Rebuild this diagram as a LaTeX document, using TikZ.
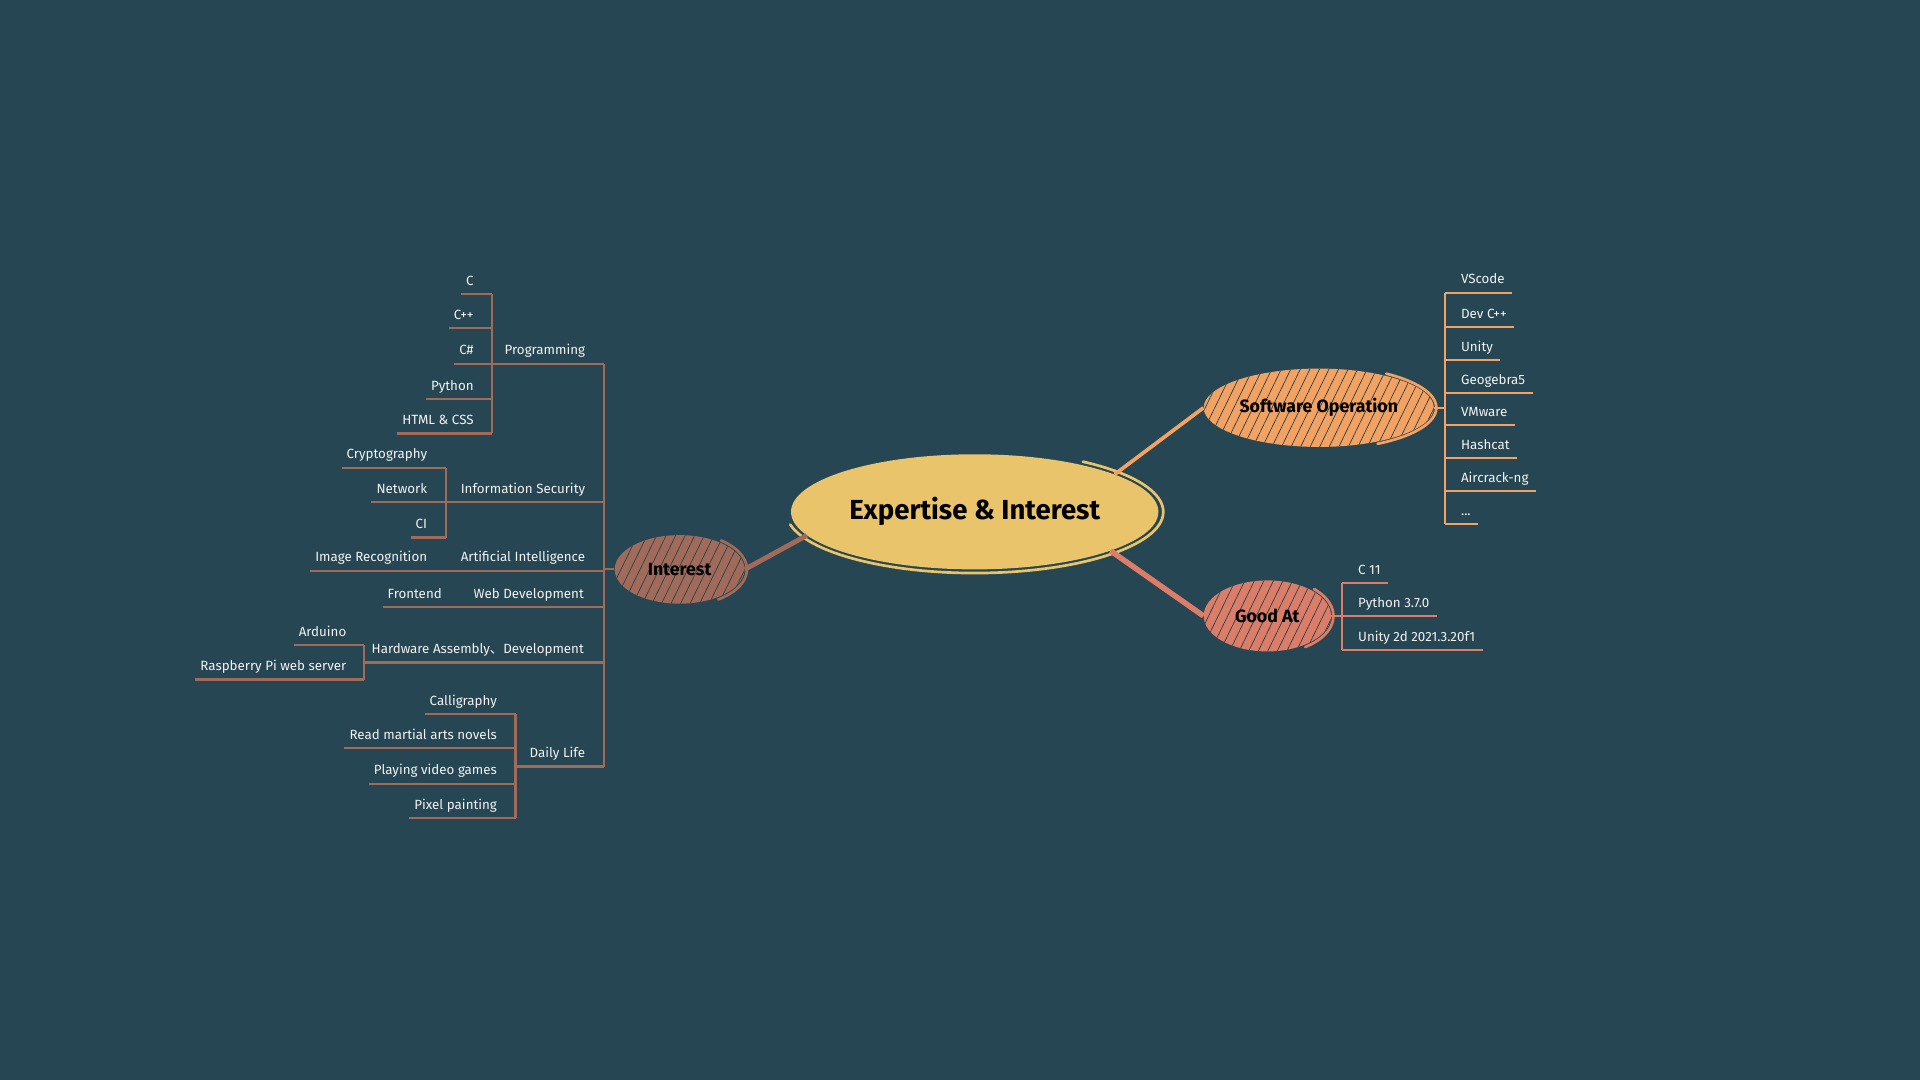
\documentclass[tikz,border=0pt]{standalone}
\usepackage{fontspec}
\setmainfont{Fira Sans}
\newfontfamily\cjk{Noto Sans CJK SC}
\usepackage{xcolor}
\usetikzlibrary{shapes.geometric,patterns.meta}
\definecolor{bg}{HTML}{264653}
\definecolor{coreyellow}{HTML}{E9C46A}
\definecolor{softorange}{HTML}{F4A261}
\definecolor{goodred}{HTML}{DC7D68}
\definecolor{intbrown}{HTML}{A26B59}
\definecolor{leaftext}{HTML}{F2F2F2}

\begin{document}
\begin{tikzpicture}[x=1pt,y=-1pt]
  \tikzstyle{topic}=[ellipse,inner sep=0,text=black,font=\bfseries\fontsize{14.5}{17}\selectfont]
  \tikzstyle{hatched}=[postaction={pattern={Lines[angle=64,distance=7pt,line width=.6pt]},pattern color=bg,fill opacity=.3}]
  \tikzstyle{sketch}=[line width=2.2pt,line cap=round]
  \tikzstyle{leaf}=[inner xsep=0,inner ysep=4pt,text height=7.5pt,text depth=3pt,text=leaftext,font=\fontsize{10.9}{13}\selectfont]
  \tikzstyle{lleaf}=[leaf,anchor=south east]
  \tikzstyle{rleaf}=[leaf,anchor=south west]
  \tikzstyle{ibranch}=[draw=intbrown,line width=1.8pt]
  \tikzstyle{sbranch}=[draw=softorange,line width=1.8pt]
  \tikzstyle{gbranch}=[draw=goodred,line width=1.8pt]
  \path[use as bounding box,fill=bg] (0,0) rectangle (1568,882);

  % main topics
  \node[topic,fill=coreyellow,minimum width=300,minimum height=94,font=\bfseries\fontsize{22.5}{26}\selectfont] (core) at (796,418) {Expertise \& Interest};
  \draw[sketch,coreyellow] ([shift={(-55:154 and 50)}]core.center) arc[start angle=-55,end angle=168,x radius=154,y radius=50];
  \node[topic,hatched,fill=softorange,minimum width=188,minimum height=64] (soft) at (1077,333) {Software Operation};
  \draw[sketch,softorange] ([shift={(-55:96 and 34)}]soft.center) arc[start angle=-55,end angle=60,x radius=96,y radius=34];
  \node[topic,hatched,fill=goodred,minimum width=104,minimum height=58] (good) at (1035,503) {Good At};
  \draw[sketch,goodred] ([shift={(-45:54 and 31)}]good.center) arc[start angle=-45,end angle=55,x radius=54,y radius=31];
  \node[topic,hatched,fill=intbrown,minimum width=106,minimum height=56] (interest) at (555,465) {Interest};
  \draw[sketch,intbrown] ([shift={(-52:55 and 30)}]interest.center) arc[start angle=-52,end angle=55,x radius=55,y radius=30];

  \draw[softorange,line width=3pt] (core.15) -- (soft.west);
  \draw[goodred,line width=4.5pt] (core.-16) -- (good.west);
  \draw[intbrown,line width=4pt] (core.188) -- (interest.east);

  % interest
  \coordinate (itrunk) at (493,465);
  \coordinate (progbr) at (402,297);
  \coordinate (infobr) at (364,410);
  \coordinate (hwbr) at (297,541);
  \coordinate (dailybr) at (421,626);
  \node[lleaf] (prog) at (478,297) {Programming};
  \node[lleaf] (info) at (478,410) {Information Security};
  \node[lleaf] (ai) at (478,466) {Artificial Intelligence};
  \node[lleaf] (web) at (477,496) {Web Development};
  \node[lleaf] (hwdev) at (477,541) {Hardware Assembly{\cjk 、}Development};
  \node[lleaf] (daily) at (478,626) {Daily Life};
  \node[lleaf] (c) at (387,240) {C};
  \node[lleaf] (cpp) at (387,268) {C++};
  \node[lleaf] (csharp) at (387,297) {C\#};
  \node[lleaf] (python) at (387,326) {Python};
  \node[lleaf] (htmlcss) at (387,354) {HTML \& CSS};
  \node[lleaf] (crypto) at (349,382) {Cryptography};
  \node[lleaf] (network) at (349,410) {Network};
  \node[lleaf] (ci) at (349,439) {CI};
  \node[lleaf] (imgrec) at (349,466) {Image Recognition};
  \node[lleaf] (frontend) at (361,496) {Frontend};
  \node[lleaf] (arduino) at (283,527) {Arduino};
  \node[lleaf] (raspi) at (283,555) {Raspberry Pi web server};
  \node[lleaf] (callig) at (406,583) {Calligraphy};
  \node[lleaf] (novels) at (406,611) {Read martial arts novels};
  \node[lleaf] (games) at (406,640) {Playing video games};
  \node[lleaf] (pixel) at (406,668) {Pixel painting};

  \draw[ibranch] (interest.west) -- (itrunk);
  \draw[ibranch] (prog.south -| itrunk) -- (daily.south -| itrunk);
  \draw[ibranch] (progbr) -- (prog.south -| itrunk);
  \draw[ibranch] (infobr) -- (info.south -| itrunk);
  \draw[ibranch] (hwbr) -- (hwdev.south -| itrunk);
  \draw[ibranch] (dailybr) -- (daily.south -| itrunk);
  \draw[ibranch] (c.south -| progbr) -- (htmlcss.south -| progbr);
  \draw[ibranch] (crypto.south -| infobr) -- (ci.south -| infobr);
  \draw[ibranch] (arduino.south -| hwbr) -- (raspi.south -| hwbr);
  \draw[ibranch] (callig.south -| dailybr) -- (pixel.south -| dailybr);
  \foreach \n/\b in {c/progbr,cpp/progbr,csharp/progbr,python/progbr,htmlcss/progbr,
    crypto/infobr,network/infobr,ci/infobr,imgrec/itrunk,frontend/itrunk,
    arduino/hwbr,raspi/hwbr,callig/dailybr,novels/dailybr,games/dailybr,pixel/dailybr}
    \draw[ibranch] ([xshift=-4pt]\n.south west) -- (\n.south -| \b);

  % software operation
  \coordinate (sbr) at (1180,333);
  \node[rleaf] (vscode) at (1193,239) {VScode};
  \node[rleaf] (devcpp) at (1193,267) {Dev C++};
  \node[rleaf] (unity) at (1193,294) {Unity};
  \node[rleaf] (geogebra) at (1193,321) {Geogebra5};
  \node[rleaf] (vmware) at (1193,347) {VMware};
  \node[rleaf] (hashcat) at (1193,374) {Hashcat};
  \node[rleaf] (aircrack) at (1193,401) {Aircrack-ng};
  \node[rleaf] (more) at (1193,428) {...};
  \draw[sbranch] (soft.east) -- (sbr);
  \draw[sbranch] (vscode.south -| sbr) -- (more.south -| sbr);
  \foreach \n in {vscode,devcpp,unity,geogebra,vmware,hashcat,aircrack,more}
    \draw[sbranch] (\n.south -| sbr) -- ([xshift=6pt]\n.south east);

  % good at
  \coordinate (gbr) at (1096,503);
  \node[rleaf] (cstd) at (1109,476) {C 11};
  \node[rleaf] (pyver) at (1109,503) {Python 3.7.0};
  \node[rleaf] (unityver) at (1109,531) {Unity 2d 2021.3.20f1};
  \draw[gbranch] (good.east) -- (gbr);
  \draw[gbranch] (cstd.south -| gbr) -- (unityver.south -| gbr);
  \foreach \n in {cstd,pyver,unityver}
    \draw[gbranch] (\n.south -| gbr) -- ([xshift=6pt]\n.south east);
\end{tikzpicture}
\end{document}
